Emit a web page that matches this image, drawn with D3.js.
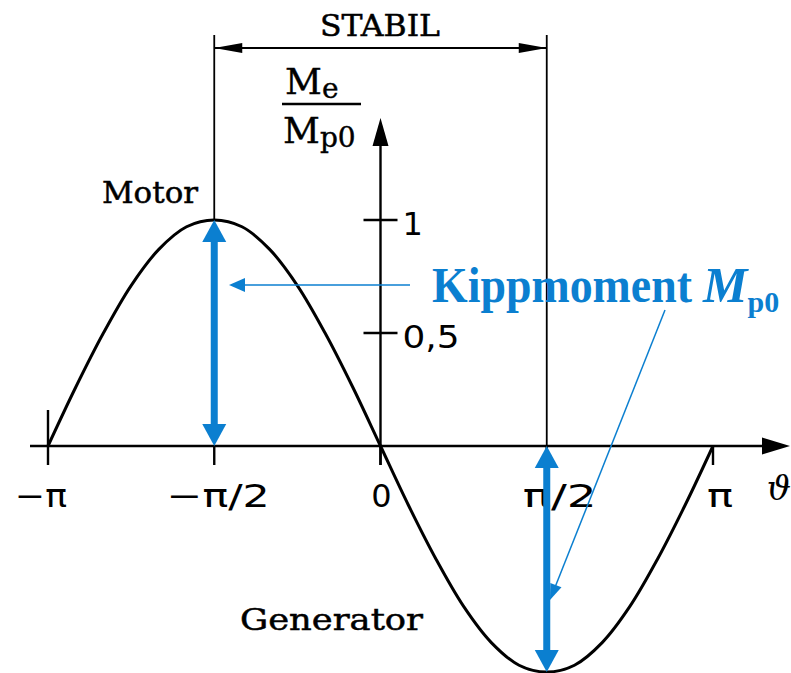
<!DOCTYPE html>
<html>
<head>
<meta charset="utf-8">
<script src="https://cdn.jsdelivr.net/npm/d3@7"></script>
<style>
  html, body { margin: 0; padding: 0; background: #fff; }
  svg { display: block; }
</style>
</head>
<body>
<svg id="chart" width="791" height="673"></svg>
<script>
// Load angle in units of π and the normalised torque Me/Mp0
const angles = [-1, -11/12, -10/12, -9/12, -8/12, -7/12, -6/12, -5/12, -4/12, -3/12, -2/12, -1/12,
                0, 1/12, 2/12, 3/12, 4/12, 5/12, 6/12, 7/12, 8/12, 9/12, 10/12, 11/12, 1];
const torque = [0, 0.26, 0.5, 0.71, 0.87, 0.97, 1, 0.97, 0.87, 0.71, 0.5, 0.26,
                0, -0.26, -0.5, -0.71, -0.87, -0.97, -1, -0.97, -0.87, -0.71, -0.5, -0.26, 0];

const xTicks = [-1, -0.5, 0, 0.5, 1];
const xTickLabels = ["\u2212\u03C0", "\u2212\u03C0/2", "0", "\u03C0/2", "\u03C0"];
const yTicks = [0.5, 1];
const yTickLabels = ["0,5", "1"];

// Pull-out torque markers: motor peak and generator trough
const peakAngles = [-0.5, 0.5];
const peakValues = [1, -1];

const BLUE = "#0b7fd0";
const INK = "#000";

const svg = d3.select("#chart");
const x = d3.scaleLinear().domain([-1, 1]).range([48, 713]);
const y = d3.scaleLinear().domain([0, 1]).range([446, 220]);

function arrowHead(g, tipX, tipY, dirX, dirY, len, halfW, color) {
  const bx = tipX - dirX * len, by = tipY - dirY * len;
  const px = -dirY, py = dirX;
  g.append("path")
    .attr("d", `M${tipX},${tipY}L${bx + px * halfW},${by + py * halfW}L${bx - px * halfW},${by - py * halfW}Z`)
    .attr("fill", color);
}

// text with a fixed rendered width
function fitText(sel, width) {
  return sel.attr("textLength", width).attr("lengthAdjust", "spacingAndGlyphs");
}

const g = svg.append("g");

// x axis line with arrow
g.append("line").attr("x1", 30).attr("x2", 765).attr("y1", y(0)).attr("y2", y(0))
  .attr("stroke", INK).attr("stroke-width", 2.4);
arrowHead(g, 790, y(0), 1, 0, 28, 8.5, INK);

// x ticks
xTicks.forEach(t => {
  const top = (t === -1) ? 410 : y(0);
  g.append("line").attr("x1", x(t)).attr("x2", x(t)).attr("y1", top).attr("y2", 465)
    .attr("stroke", INK).attr("stroke-width", 2.4);
});
const labelShift = [-7, 4, 1, 13, 7];
const labelWidth = [52, 103, 0, 74, 26];
g.selectAll("text.xl").data(xTicks).join("text")
  .attr("class", "xl")
  .attr("x", (d, i) => x(d) + labelShift[i])
  .attr("y", 507)
  .attr("text-anchor", "middle")
  .attr("font-family", "DejaVu Sans")
  .attr("font-size", 32)
  .attr("fill", INK)
  .each(function (d, i) { if (labelWidth[i]) fitText(d3.select(this), labelWidth[i]); })
  .text((d, i) => xTickLabels[i]);

g.append("text").attr("x", 779).attr("y", 500).attr("text-anchor", "middle")
  .attr("font-family", "DejaVu Serif").attr("font-style", "italic").attr("font-size", 34)
  .text("\u03D1");

// y axis with arrow
g.append("line").attr("x1", x(0)).attr("x2", x(0)).attr("y1", 465).attr("y2", 140)
  .attr("stroke", INK).attr("stroke-width", 2.4);
arrowHead(g, x(0), 118, 0, -1, 28, 8, INK);

yTicks.forEach((t, i) => {
  g.append("line").attr("x1", x(0) - 17).attr("x2", x(0) + 17).attr("y1", y(t)).attr("y2", y(t))
    .attr("stroke", INK).attr("stroke-width", 2.4);
  const lbl = g.append("text").attr("x", x(0) + 22).attr("y", y(t) + 15)
    .attr("font-family", "DejaVu Sans").attr("font-size", 32).attr("fill", INK);
  if (yTickLabels[i].length > 1) fitText(lbl, 57);
  lbl.text(yTickLabels[i]);
});

// y axis title as a fraction Me / Mp0
const ft = g.append("g").attr("font-family", "DejaVu Serif").attr("fill", INK)
  .attr("stroke", INK).attr("stroke-width", 0.4);
const t1 = ft.append("text").attr("x", 285).attr("y", 94).attr("font-size", 36);
t1.append("tspan").text("M");
t1.append("tspan").attr("font-size", 28).attr("dy", 4).text("e");
g.append("line").attr("x1", 282).attr("x2", 361).attr("y1", 104).attr("y2", 104)
  .attr("stroke", INK).attr("stroke-width", 2.4);
const t2 = ft.append("text").attr("x", 283).attr("y", 143).attr("font-size", 36);
t2.append("tspan").text("M");
t2.append("tspan").attr("font-size", 28).attr("dy", 4).text("p0");

// STABIL range between -π/2 and π/2
[-0.5, 0.5].forEach(t => {
  g.append("line").attr("x1", x(t)).attr("x2", x(t)).attr("y1", 35).attr("y2", t < 0 ? y(1) : 465)
    .attr("stroke", INK).attr("stroke-width", 1.8);
});
g.append("line").attr("x1", x(-0.5)).attr("x2", x(0.5)).attr("y1", 48).attr("y2", 48)
  .attr("stroke", INK).attr("stroke-width", 1.8);
arrowHead(g, x(-0.5), 48, -1, 0, 28, 5, INK);
arrowHead(g, x(0.5), 48, 1, 0, 28, 5, INK);

const words = g.append("g").attr("font-family", "DejaVu Serif").attr("font-size", 30)
  .attr("fill", INK).attr("stroke", INK).attr("stroke-width", 0.5);
fitText(words.append("text").attr("x", 320).attr("y", 36), 120).text("STABIL");
fitText(words.append("text").attr("x", 102).attr("y", 203), 96).text("Motor");
fitText(words.append("text").attr("x", 240).attr("y", 630), 183).text("Generator");

// torque curve
const line = d3.line().x((d, i) => x(angles[i])).y(d => y(d)).curve(d3.curveCatmullRom.alpha(0.5));
g.append("path").datum(torque).attr("d", line)
  .attr("fill", "none").attr("stroke", INK).attr("stroke-width", 3);

// blue double arrows marking the pull-out torque
peakAngles.forEach((a, i) => {
  const y0 = y(0), y1 = y(peakValues[i]);
  const dir = Math.sign(y1 - y0);
  const head = 22;
  g.append("line").attr("x1", x(a)).attr("x2", x(a))
    .attr("y1", y0 + dir * (head - 2)).attr("y2", y1 - dir * (head - 2))
    .attr("stroke", BLUE).attr("stroke-width", 7);
  arrowHead(g, x(a), y1, 0, dir, head, 12, BLUE);
  arrowHead(g, x(a), y0, 0, -dir, head, 12, BLUE);
});

// label and leader lines
g.append("line").attr("x1", 410).attr("x2", 240).attr("y1", 285).attr("y2", 285)
  .attr("stroke", BLUE).attr("stroke-width", 1.5);
arrowHead(g, 229, 285, -1, 0, 16, 7, BLUE);
const lx0 = 665, ly0 = 310, lx1 = 550, ly1 = 600;
const L = Math.hypot(lx1 - lx0, ly1 - ly0);
g.append("line").attr("x1", lx0).attr("x2", lx1 - (lx1 - lx0) / L * 12).attr("y1", ly0).attr("y2", ly1 - (ly1 - ly0) / L * 12)
  .attr("stroke", BLUE).attr("stroke-width", 1.5);
arrowHead(g, lx1, ly1, (lx1 - lx0) / L, (ly1 - ly0) / L, 16, 6, BLUE);

// "Kippmoment" is narrowed horizontally so the italic symbol fits after it
const kg = g.append("g").attr("font-family", "Liberation Serif").attr("font-weight", "bold").attr("fill", BLUE);
const kw = kg.append("text").attr("font-size", 50).text("Kippmoment");
const natural = kw.node().getComputedTextLength();
kw.attr("transform", `translate(432,302) scale(${260 / natural},1)`);
const km = kg.append("text").attr("x", 703).attr("y", 302).attr("font-size", 50);
km.append("tspan").attr("font-style", "italic").text("M");
km.append("tspan").attr("font-size", 30).attr("dy", 10).text("p0");
</script>
</body>
</html>
